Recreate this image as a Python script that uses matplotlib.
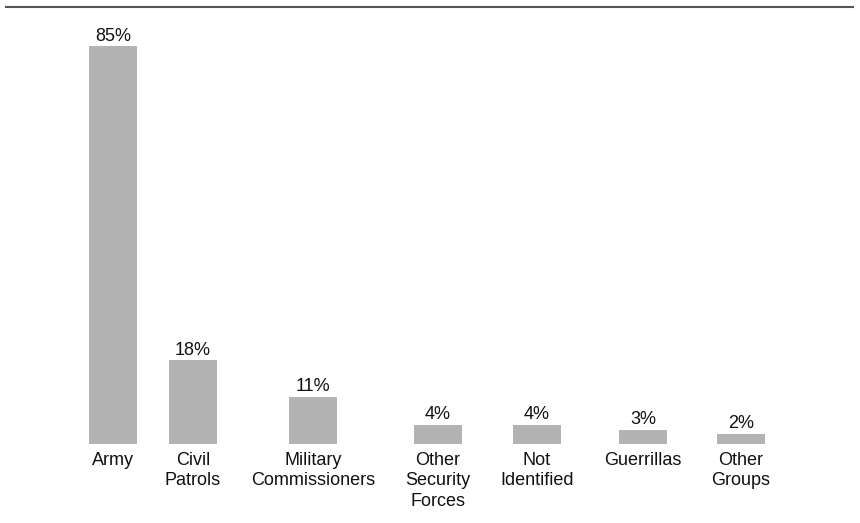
import matplotlib
matplotlib.use("Agg")
import matplotlib.pyplot as plt

# data
categories = ["Army", "Civil\nPatrols", "Military\nCommissioners", "Other\nSecurity\nForces",
              "Not\nIdentified", "Guerrillas", "Other\nGroups"]
values = [85, 17.9, 10.1, 4.1, 4.1, 3.0, 2.2]
value_labels = ["85%", "18%", "11%", "4%", "4%", "3%", "2%"]

# layout (pixel units, axes spans the whole figure)
xpos = [113, 193, 313, 438, 537, 643, 741]
px_per_pct = 4.68
base_px = 523 - 444

plt.rcParams['font.family'] = ['Liberation Sans', 'DejaVu Sans']

fig = plt.figure(figsize=(8.6, 5.23), dpi=100)
ax = fig.add_axes([0, 0, 1, 1])
ax.set_xlim(0, 860)
ax.set_ylim(-base_px / px_per_pct, (523 - base_px) / px_per_pct)
ax.axis("off")

ax.bar(xpos, values, width=48, color="#b3b3b3")

for x, v, lab in zip(xpos, values, value_labels):
    ax.annotate(lab, (x, v), xytext=(0, 4), textcoords="offset points",
                ha="center", va="baseline", fontsize=13, color="#111111")

for x, c in zip(xpos, categories):
    ax.annotate(c, (x, 0), xytext=(0, -5.5), textcoords="offset points",
                ha="center", va="top", fontsize=13, color="#111111", linespacing=1.28)

# rule across the top
fig.add_artist(plt.Line2D([6 / 860, 853 / 860], [1 - 6.5 / 523, 1 - 6.5 / 523],
                          color="#555555", linewidth=1.5, transform=fig.transFigure))

fig.savefig("out.png", dpi=100)
